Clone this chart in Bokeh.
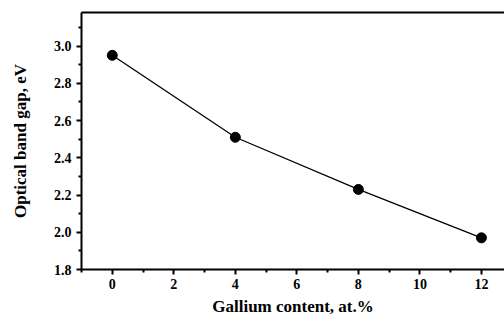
from bokeh.plotting import figure
from bokeh.models import Range1d, LinearAxis, FixedTicker
from bokeh.embed import file_html
from bokeh.resources import INLINE

gallium = [0, 4, 8, 12]
band_gap = [2.95, 2.51, 2.23, 1.97]
x_ticks = [0, 2, 4, 6, 8, 10, 12]
x_minor = [-1, 1, 3, 5, 7, 9, 11]
y_ticks = [1.8, 2.0, 2.2, 2.4, 2.6, 2.8, 3.0]
y_minor = [1.9, 2.1, 2.3, 2.5, 2.7, 2.9, 3.1]

FONT = "Liberation Serif"

p = figure(width=504, height=320, output_backend="svg", toolbar_location=None,
           x_range=Range1d(-1, 12.75), y_range=Range1d(1.8, 3.18),
           x_axis_type=None, y_axis_type=None,
           min_border_left=81, min_border_right=0, min_border_top=12, min_border_bottom=51)
p.outline_line_color = None
p.xgrid.visible = False
p.ygrid.visible = False
p.background_fill_color = "white"

xa = LinearAxis(ticker=FixedTicker(ticks=x_ticks, minor_ticks=x_minor))
ya = LinearAxis(ticker=FixedTicker(ticks=y_ticks, minor_ticks=y_minor))
ta = LinearAxis(ticker=FixedTicker(ticks=[]))

for ax in (xa, ya):
    ax.axis_line_width = 2
    ax.axis_line_color = "black"
    ax.major_tick_line_width = 2
    ax.minor_tick_line_width = 2
    ax.major_tick_in = 0
    ax.major_tick_out = 5
    ax.minor_tick_in = 0
    ax.minor_tick_out = 3
    ax.major_label_text_font = FONT
    ax.major_label_text_font_style = "bold"
    ax.major_label_text_font_size = "14px"
    ax.major_label_text_color = "black"
    ax.axis_label_text_font = FONT
    ax.axis_label_text_font_style = "bold"
    ax.axis_label_text_font_size = "17px"
    ax.axis_label_text_color = "black"

xa.axis_label = "Gallium content, at.%"
xa.major_label_standoff = 4
xa.axis_label_standoff = 5
ya.axis_label = "Optical band gap, eV"
ya.major_label_standoff = 5
ya.axis_label_standoff = 21
ya.major_label_overrides = {t: f"{t:.1f}" for t in y_ticks}

ta.axis_line_width = 2
ta.axis_line_color = "black"
ta.major_tick_line_color = None
ta.minor_tick_line_color = None
ta.major_label_standoff = 0

p.add_layout(xa, "below")
p.add_layout(ya, "left")
p.add_layout(ta, "above")

p.line(gallium, band_gap, line_color="black", line_width=1.3)
p.scatter(gallium, band_gap, size=10, fill_color="black", line_color="black")

open("out.html", "w").write(file_html(p, INLINE))
